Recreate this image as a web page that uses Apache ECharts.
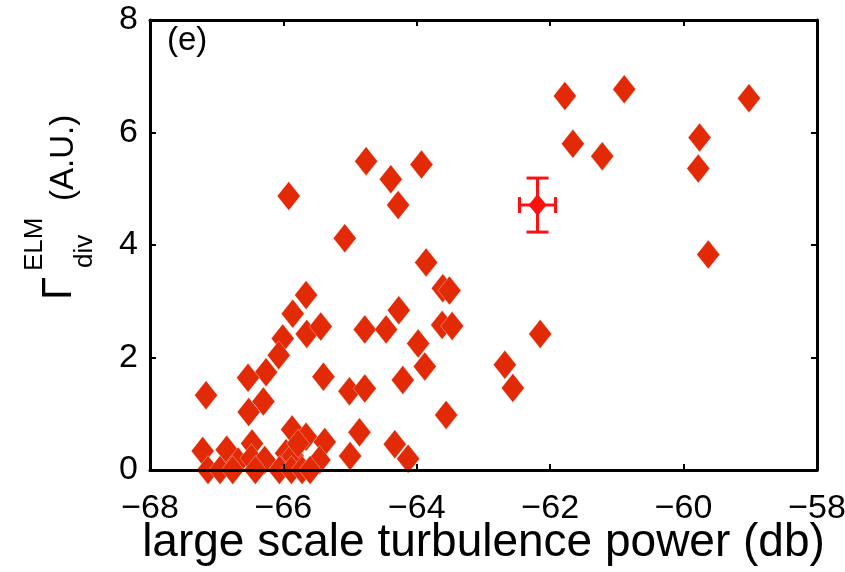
<!DOCTYPE html>
<html>
<head>
<meta charset="utf-8">
<script src="https://cdn.jsdelivr.net/npm/echarts@6/dist/echarts.min.js"></script>
<style>
html,body{margin:0;padding:0;background:#fff;}
#chart{width:845px;height:572px;}
</style>
</head>
<body>
<div id="chart"></div>
<script>
// ---- data ----
var turbulencePower = [
  -65.92, -64.76, -64.39, -64.28, -63.93, -65.08, -61.78, -60.89, -59.02, -61.66,
  -61.22, -59.76, -59.78, -59.63, -62.15, -62.68, -62.56, -63.86, -63.61, -63.51,
  -65.66, -65.86, -64.27, -65.65, -65.44, -64.78, -64.46, -63.62, -63.47, -66.01,
  -66.07, -63.98, -66.26, -66.53, -63.88, -65.40, -64.21, -65.01, -64.78, -67.16,
  -66.30, -66.52, -63.56, -65.87, -64.86, -65.66, -65.38, -67.21, -66.85, -66.47,
  -64.33, -64.13, -65.00, -66.68, -66.48, -66.28, -65.96, -65.86, -65.78, -65.46,
  -67.13, -66.95, -66.76, -66.42, -66.06, -65.88, -65.72, -65.60
];
var gammaDivELM = [
  4.87, 5.49, 5.17, 4.71, 5.43, 4.12, 6.65, 6.77, 6.61, 5.80,
  5.58, 5.91, 5.36, 3.83, 2.42, 1.87, 1.46, 3.69, 3.23, 3.19,
  3.11, 2.78, 2.84, 2.42, 2.55, 2.50, 2.50, 2.58, 2.56, 2.34,
  2.04, 2.25, 1.74, 1.64, 1.84, 1.66, 1.60, 1.40, 1.45, 1.33,
  1.22, 1.03, 0.98, 0.72, 0.67, 0.59, 0.50, 0.34, 0.36, 0.47,
  0.46, 0.20, 0.25, 0.15, 0.21, 0.18, 0.30, 0.25, 0.47, 0.18,
  0, 0, 0, 0, 0, 0, 0, 0
];
// representative error bar: [x, y, xError, yError]
var errorBarPoint = [-62.19, 4.71, 0.27, 0.48];

var xTicks = {min: -68, max: -58, interval: 2};
var yTicks = {min: 0, max: 8, interval: 2};

var xTitle = 'large scale turbulence power (db)';
var panelLabel = '(e)';

// ---- chart ----
var FONT = '"Liberation Sans", Arial, Helvetica, sans-serif';
var scatterData = turbulencePower.map(function (x, i) { return [x, gammaDivELM[i]]; });

var chart = echarts.init(document.getElementById('chart'), null, {renderer: 'canvas'});

function axisCommon(extra) {
  var o = {
    type: 'value',
    z: 10,
    axisLine: {show: true, onZero: false, lineStyle: {color: '#000', width: 3}},
    axisTick: {show: true, inside: true, length: 6, lineStyle: {color: '#000', width: 2}},
    splitLine: {show: false},
    minorTick: {show: false}
  };
  for (var k in extra) o[k] = extra[k];
  return o;
}

var option = {
  backgroundColor: '#fff',
  animation: false,
  grid: {left: 150, right: 28, top: 20, bottom: 102, outerBoundsMode: 'none', containLabel: false},
  xAxis: [
    axisCommon({
      position: 'bottom', min: xTicks.min, max: xTicks.max, interval: xTicks.interval,
      axisLabel: {
        show: true, color: '#000', fontSize: 34, fontFamily: FONT, margin: 22,
        formatter: function (v) { return String(v).replace('-', '\u2212'); }
      },
      name: xTitle, nameLocation: 'middle', nameGap: 50, nameMoveOverlap: false,
      nameTextStyle: {color: '#000', fontSize: 46, fontFamily: FONT}
    }),
    axisCommon({
      position: 'top', min: xTicks.min, max: xTicks.max, interval: xTicks.interval,
      axisLabel: {show: false}
    })
  ],
  yAxis: [
    axisCommon({
      position: 'left', min: yTicks.min, max: yTicks.max, interval: yTicks.interval,
      axisLabel: {show: true, color: '#000', fontSize: 34, fontFamily: FONT, margin: 12}
    }),
    axisCommon({
      position: 'right', min: yTicks.min, max: yTicks.max, interval: yTicks.interval,
      axisLabel: {show: false}
    })
  ],
  series: [
    {
      type: 'scatter',
      xAxisIndex: 0, yAxisIndex: 0,
      data: scatterData,
      symbol: 'diamond',
      symbolSize: [23, 29],
      clip: false,
      itemStyle: {color: '#e32a06', opacity: 1, borderColor: 'rgba(255,255,255,0.55)', borderWidth: 0.6},
      z: 3
    },
    {
      type: 'custom',
      xAxisIndex: 0, yAxisIndex: 0,
      data: [errorBarPoint],
      z: 4,
      renderItem: function (params, api) {
        var x = api.value(0), y = api.value(1), ex = api.value(2), ey = api.value(3);
        var c = api.coord([x, y]);
        var top = api.coord([x, y + ey]);
        var bot = api.coord([x, y - ey]);
        var lft = api.coord([x - ex, y]);
        var rgt = api.coord([x + ex, y]);
        var capV = 11, capH = 8;
        var st = {stroke: '#ff1010', lineWidth: 3, fill: null};
        return {
          type: 'group',
          children: [
            {type: 'line', shape: {x1: top[0], y1: top[1], x2: bot[0], y2: bot[1]}, style: st},
            {type: 'line', shape: {x1: top[0] - capV, y1: top[1], x2: top[0] + capV, y2: top[1]}, style: st},
            {type: 'line', shape: {x1: bot[0] - capV, y1: bot[1], x2: bot[0] + capV, y2: bot[1]}, style: st},
            {type: 'line', shape: {x1: lft[0], y1: lft[1], x2: rgt[0], y2: rgt[1]}, style: st},
            {type: 'line', shape: {x1: lft[0], y1: lft[1] - capH, x2: lft[0], y2: lft[1] + capH}, style: st},
            {type: 'line', shape: {x1: rgt[0], y1: rgt[1] - capH, x2: rgt[0], y2: rgt[1] + capH}, style: st},
            {type: 'polygon', shape: {points: [[c[0], c[1] - 11], [c[0] + 9, c[1]], [c[0], c[1] + 11], [c[0] - 9, c[1]]]},
             style: {fill: '#ff1010'}}
          ]
        };
      }
    }
  ],
  graphic: [
    {
      type: 'text', left: 167, top: 24, z: 20,
      style: {text: panelLabel, fontSize: 33, fontFamily: FONT, fill: '#000'}
    },
    {
      type: 'group',
      x: 76, y: 300,
      rotation: Math.PI / 2,
      z: 20,
      children: [
        {type: 'text', x: 0, y: -17, style: {text: '\u0393', fontSize: 42, fontFamily: FONT, fill: '#000', align: 'left', verticalAlign: 'middle'}},
        {type: 'text', x: 29, y: -41, style: {text: 'ELM', fontSize: 26, fontFamily: FONT, fill: '#000', align: 'left', verticalAlign: 'middle'}},
        {type: 'text', x: 32, y: 9, style: {text: 'div', fontSize: 26, fontFamily: FONT, fill: '#000', align: 'left', verticalAlign: 'middle'}},
        {type: 'text', x: 99, y: -12, style: {text: '(A.U.)', fontSize: 33, fontFamily: FONT, fill: '#000', align: 'left', verticalAlign: 'middle'}}
      ]
    }
  ]
};
chart.setOption(option);
</script>
</body>
</html>
